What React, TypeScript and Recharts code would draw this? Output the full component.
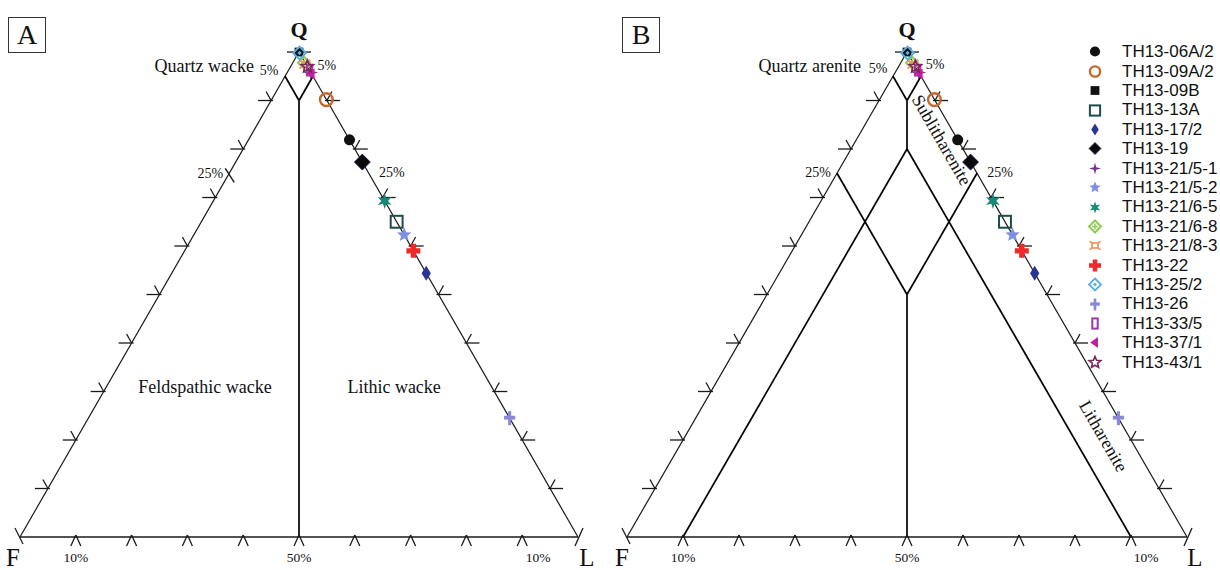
import React from 'react';
import { ScatterChart, Scatter, XAxis, YAxis, ReferenceLine, ReferenceDot } from 'recharts';

// ---------- data ----------
const sampleNames = [
  'TH13-06A/2', 'TH13-09A/2', 'TH13-09B', 'TH13-13A', 'TH13-17/2', 'TH13-19',
  'TH13-21/5-1', 'TH13-21/5-2', 'TH13-21/6-5', 'TH13-21/6-8', 'TH13-21/8-3',
  'TH13-22', 'TH13-25/2', 'TH13-26', 'TH13-33/5', 'TH13-37/1', 'TH13-43/1',
];
// quartz fraction (Q) and feldspar fraction (F); L = 1 - Q - F
const sampleQ = [0.819, 0.902, 1.0, 0.65, 0.544, 0.773, 0.958, 0.623, 0.693, 0.978, 0.975, 0.59, 0.998, 0.245, 0.962, 0.955, 0.97];
const sampleF = [0, 0, 0, 0, 0, 0, 0, 0, 0, 0.002, 0.002, 0, 0, 0, 0, 0, 0];
const sampleColors = [
  '#111111', '#c8662e', '#111111', '#1d4d4a', '#2a3593', '#0a0a0a',
  '#7a2c96', '#7d8fe0', '#168a74', '#8dcc4e', '#ee9a66',
  '#ec2a2a', '#5aaee0', '#8a88d6', '#9c3aa6', '#c21ea0', '#7a2458',
];
const sampleKinds = [
  'dot', 'ring', 'square', 'openSquare', 'diamond', 'bigDiamond',
  'star4', 'star5', 'star6', 'diamondCross', 'squareX',
  'cross', 'diamondDot', 'crossThin', 'openRect', 'triLeft', 'starOpen',
];

const sideTickValues = [0.1, 0.2, 0.3, 0.4, 0.5, 0.6, 0.7, 0.8, 0.9];
const baseTickValues = [0.1, 0.2, 0.3, 0.4, 0.5, 0.6, 0.7, 0.8, 0.9];

// classification boundaries as [q, l] pairs
const boundariesA: number[][][] = [
  [[0.95, 0], [0.9, 0.05]],
  [[0.95, 0.05], [0.9, 0.05]],
  [[0.9, 0.05], [0, 0.5]],
];
const boundariesB: number[][][] = [
  [[0.95, 0], [0.9, 0.05]],
  [[0.95, 0.05], [0.9, 0.05]],
  [[0.9, 0.05], [0.8, 0.1]],
  [[0.8, 0.1], [0, 0.1]],
  [[0.8, 0.1], [0, 0.9]],
  [[0.75, 0], [0.5, 0.25]],
  [[0.75, 0.25], [0.5, 0.25]],
  [[0.5, 0.25], [0, 0.5]],
];

type Ann = { text: string; q: number; l: number; dx: number; dy: number; size: number; anchor?: string; rotate?: number; bold?: boolean };

const labelsA: Ann[] = [
  { text: 'Q', q: 1, l: 0, dx: 0, dy: -15, size: 22, bold: true },
  { text: 'F', q: 0, l: 0, dx: -7, dy: 29, size: 25 },
  { text: 'L', q: 0, l: 1, dx: 9, dy: 29, size: 25 },
  { text: '5%', q: 0.95, l: 0, dx: -16, dy: -1, size: 14 },
  { text: '5%', q: 0.95, l: 0.05, dx: 14, dy: -6, size: 14 },
  { text: '25%', q: 0.75, l: 0, dx: -19, dy: 5, size: 14 },
  { text: '25%', q: 0.75, l: 0.25, dx: 23, dy: 4, size: 14 },
  { text: '10%', q: 0, l: 0.1, dx: 0, dy: 25, size: 13.5 },
  { text: '50%', q: 0, l: 0.5, dx: 0, dy: 25, size: 13.5 },
  { text: '10%', q: 0, l: 0.9, dx: 16, dy: 25, size: 13.5 },
  { text: 'Quartz wacke', q: 0.95, l: 0, dx: -31, dy: -4, size: 18, anchor: 'end' },
  { text: 'Feldspathic wacke', q: 0.297, l: 0.183, dx: 0, dy: 0, size: 18 },
  { text: 'Lithic wacke', q: 0.297, l: 0.522, dx: 0, dy: 0, size: 18 },
];
const labelsB: Ann[] = [
  { text: 'Q', q: 1, l: 0, dx: 0, dy: -15, size: 22, bold: true },
  { text: 'F', q: 0, l: 0, dx: -5, dy: 29, size: 25 },
  { text: 'L', q: 0, l: 1, dx: 8, dy: 29, size: 25 },
  { text: '5%', q: 0.95, l: 0, dx: -15, dy: -3, size: 14 },
  { text: '5%', q: 0.95, l: 0.05, dx: 14, dy: -7, size: 14 },
  { text: '25%', q: 0.75, l: 0, dx: -19, dy: 4, size: 14 },
  { text: '25%', q: 0.75, l: 0.25, dx: 23, dy: 4, size: 14 },
  { text: '10%', q: 0, l: 0.1, dx: 0, dy: 25, size: 13.5 },
  { text: '50%', q: 0, l: 0.5, dx: 0, dy: 25, size: 13.5 },
  { text: '10%', q: 0, l: 0.9, dx: 15, dy: 25, size: 13.5 },
  { text: 'Quartz arenite', q: 0.95, l: 0, dx: -32, dy: -4, size: 18, anchor: 'end' },
  { text: 'Sublitharenite', q: 0.8165, l: 0.151, dx: 0, dy: 0, size: 18, rotate: 60 },
  { text: 'Litharenite', q: 0.206, l: 0.745, dx: 0, dy: 0, size: 18, rotate: 60 },
];

// ---------- geometry helpers ----------
const H = Math.sqrt(3) / 2;
const CHART_W = 610;
const CHART_H = 570;
const BASE_PX = 537;
const PPU_Y = 560;

type Pt = { x: number; y: number };
const toXY = (q: number, l: number): Pt => ({ x: l + q / 2, y: q * H });

type Seg = { a: Pt; b: Pt; w: number; c: string };

const kindSize: Record<string, number> = {
  dot: 13, ring: 15, square: 11, openSquare: 14, diamond: 15, bigDiamond: 16,
  star4: 15, star5: 15, star6: 16, diamondCross: 12, squareX: 11, cross: 14,
  diamondDot: 13, crossThin: 14, openRect: 12, triLeft: 12, starOpen: 13,
};

function starPts(cx: number, cy: number, n: number, ro: number, ri: number): string {
  const pts: string[] = [];
  for (let i = 0; i < n * 2; i++) {
    const r = i % 2 === 0 ? ro : ri;
    const a = -Math.PI / 2 + (i * Math.PI) / n;
    pts.push(`${cx + r * Math.cos(a)},${cy + r * Math.sin(a)}`);
  }
  return pts.join(' ');
}

function Marker({ kind, color, cx, cy, s }: { kind: string; color: string; cx: number; cy: number; s: number }) {
  const h = s / 2;
  switch (kind) {
    case 'dot':
      return <circle cx={cx} cy={cy} r={h * 0.85} fill={color} />;
    case 'ring':
      return <circle cx={cx} cy={cy} r={h * 0.85} fill="none" stroke={color} strokeWidth={2.4} />;
    case 'square':
      return <rect x={cx - h * 0.8} y={cy - h * 0.8} width={h * 1.6} height={h * 1.6} fill={color} />;
    case 'openSquare':
      return <rect x={cx - h * 0.85} y={cy - h * 0.85} width={h * 1.7} height={h * 1.7} fill="none" stroke={color} strokeWidth={2} />;
    case 'diamond':
      return <polygon points={`${cx},${cy - h} ${cx + h * 0.62},${cy} ${cx},${cy + h} ${cx - h * 0.62},${cy}`} fill={color} />;
    case 'bigDiamond':
      return <polygon points={`${cx},${cy - h} ${cx + h},${cy} ${cx},${cy + h} ${cx - h},${cy}`} fill={color} stroke="#1a1a50" strokeWidth={0.8} />;
    case 'star4':
      return <polygon points={starPts(cx, cy, 4, h, h * 0.28)} fill={color} />;
    case 'star5':
      return <polygon points={starPts(cx, cy, 5, h, h * 0.45)} fill={color} />;
    case 'star6':
      return <polygon points={starPts(cx, cy, 6, h, h * 0.42)} fill={color} />;
    case 'diamondCross':
      return (
        <g>
          <polygon points={`${cx},${cy - h} ${cx + h},${cy} ${cx},${cy + h} ${cx - h},${cy}`} fill="none" stroke={color} strokeWidth={2} />
          <line x1={cx - h * 0.5} y1={cy} x2={cx + h * 0.5} y2={cy} stroke={color} strokeWidth={1.5} />
          <line x1={cx} y1={cy - h * 0.5} x2={cx} y2={cy + h * 0.5} stroke={color} strokeWidth={1.5} />
        </g>
      );
    case 'squareX':
      return (
        <g stroke={color} strokeWidth={1.8} fill="none">
          <rect x={cx - h * 0.55} y={cy - h * 0.45} width={h * 1.1} height={h * 0.9} />
          <line x1={cx - h} y1={cy - h * 0.8} x2={cx - h * 0.5} y2={cy - h * 0.4} />
          <line x1={cx + h} y1={cy - h * 0.8} x2={cx + h * 0.5} y2={cy - h * 0.4} />
          <line x1={cx - h} y1={cy + h * 0.8} x2={cx - h * 0.5} y2={cy + h * 0.4} />
          <line x1={cx + h} y1={cy + h * 0.8} x2={cx + h * 0.5} y2={cy + h * 0.4} />
        </g>
      );
    case 'cross': {
      const a = h * 0.38;
      return (
        <polygon
          points={`${cx - a},${cy - h} ${cx + a},${cy - h} ${cx + a},${cy - a} ${cx + h},${cy - a} ${cx + h},${cy + a} ${cx + a},${cy + a} ${cx + a},${cy + h} ${cx - a},${cy + h} ${cx - a},${cy + a} ${cx - h},${cy + a} ${cx - h},${cy - a} ${cx - a},${cy - a}`}
          fill={color}
        />
      );
    }
    case 'diamondDot':
      return (
        <g>
          <polygon points={`${cx},${cy - h} ${cx + h},${cy} ${cx},${cy + h} ${cx - h},${cy}`} fill="none" stroke={color} strokeWidth={1.8} />
          <polygon points={`${cx},${cy - h * 0.35} ${cx + h * 0.35},${cy} ${cx},${cy + h * 0.35} ${cx - h * 0.35},${cy}`} fill={color} />
        </g>
      );
    case 'crossThin': {
      const a = h * 0.22;
      return (
        <g fill={color}>
          <rect x={cx - a} y={cy - h} width={2 * a} height={2 * h} />
          <rect x={cx - h * 0.8} y={cy - h * 0.35} width={h * 1.6} height={h * 0.55} />
        </g>
      );
    }
    case 'openRect':
      return <rect x={cx - h * 0.45} y={cy - h * 0.85} width={h * 0.9} height={h * 1.7} fill="none" stroke={color} strokeWidth={2} />;
    case 'triLeft':
      return <polygon points={`${cx - h * 0.8},${cy} ${cx + h * 0.5},${cy - h * 0.9} ${cx + h * 0.5},${cy + h * 0.9}`} fill={color} />;
    case 'starOpen':
      return <polygon points={starPts(cx, cy, 5, h, h * 0.45)} fill="none" stroke={color} strokeWidth={1.6} />;
    default:
      return <circle cx={cx} cy={cy} r={h} fill={color} />;
  }
}

interface PanelCfg { id: string; left: number; originPx: number; ppuX: number; boundaries: number[][][]; labels: Ann[]; slash25: boolean }

function buildSegments(cfg: PanelCfg): Seg[] {
  const off = (p: Pt, dpx: number, dpy: number): Pt => ({ x: p.x + dpx / cfg.ppuX, y: p.y - dpy / PPU_Y });
  const segs: Seg[] = [];
  const edge = '#1a1a1a';
  const vQ = toXY(1, 0), vF = toXY(0, 0), vL = toXY(0, 1);
  segs.push({ a: vF, b: vQ, w: 1.2, c: edge });
  segs.push({ a: vQ, b: vL, w: 1.2, c: edge });
  segs.push({ a: vF, b: vL, w: 1.4, c: edge });
  cfg.boundaries.forEach(([p1, p2]) => {
    segs.push({ a: toXY(p1[0], p1[1]), b: toXY(p2[0], p2[1]), w: 1.7, c: '#000' });
  });
  sideTickValues.forEach((q) => {
    const pl = toXY(q, 0);
    segs.push({ a: off(pl, 2, 0), b: off(pl, -13, 0), w: 1.3, c: edge });
    segs.push({ a: pl, b: off(pl, -5, -9), w: 1.3, c: edge });
    const pr = toXY(q, 1 - q);
    segs.push({ a: off(pr, -2, 0), b: off(pr, 13, 0), w: 1.3, c: edge });
    segs.push({ a: pr, b: off(pr, 5, -9), w: 1.3, c: edge });
  });
  baseTickValues.forEach((l) => {
    const pb = toXY(0, l);
    segs.push({ a: off(pb, 0, -2), b: off(pb, -5, 9), w: 1.3, c: edge });
    segs.push({ a: off(pb, 0, -2), b: off(pb, 5, 9), w: 1.3, c: edge });
  });
  segs.push({ a: off(vQ, -12, 0), b: off(vQ, 12, 0), w: 1.3, c: edge });
  segs.push({ a: off(vF, -5, -9), b: off(vF, 3, 7), w: 1.3, c: edge });
  segs.push({ a: off(vL, 5, -9), b: off(vL, -3, 9), w: 1.3, c: edge });
  if (cfg.slash25) {
    const p = toXY(0.75, 0);
    segs.push({ a: off(p, -4, -5), b: off(p, 5, 9), w: 1.4, c: edge });
  }
  return segs;
}

function TernaryPanel({ cfg }: { cfg: PanelCfg }) {
  const xDomain = [-cfg.originPx / cfg.ppuX, (CHART_W - cfg.originPx) / cfg.ppuX];
  const yDomain = [-(CHART_H - BASE_PX) / PPU_Y, BASE_PX / PPU_Y];
  const segs = buildSegments(cfg);
  return (
    <div style={{ position: 'absolute', left: cfg.left, top: 0, width: CHART_W, height: CHART_H }}>
      <ScatterChart width={CHART_W} height={CHART_H} margin={{ top: 0, right: 0, bottom: 0, left: 0 }}>
        <XAxis type="number" dataKey="x" domain={xDomain} allowDataOverflow hide />
        <YAxis type="number" dataKey="y" domain={yDomain} allowDataOverflow hide />
        {segs.map((s, i) => (
          <ReferenceLine key={'s' + i} segment={[s.a, s.b]} stroke={s.c} strokeWidth={s.w} ifOverflow="visible" />
        ))}
        {cfg.labels.map((t, i) => {
          const p = toXY(t.q, t.l);
          return (
            <ReferenceDot
              key={'t' + i}
              x={p.x}
              y={p.y}
              r={0}
              ifOverflow="visible"
              shape={(sp: any) => {
                const x = sp.cx + t.dx;
                const y = sp.cy + t.dy;
                return (
                  <text
                    x={x}
                    y={y}
                    textAnchor={t.anchor || 'middle'}
                    dominantBaseline={t.rotate ? 'middle' : 'auto'}
                    transform={t.rotate ? `rotate(${t.rotate}, ${x}, ${y})` : undefined}
                    fontFamily='"Liberation Serif", "Times New Roman", serif'
                    fontSize={t.size}
                    fontWeight={t.bold ? 'bold' : 'normal'}
                    fill="#111"
                  >
                    {t.text}
                  </text>
                );
              }}
            />
          );
        })}
        {sampleNames.map((name, i) => {
          const q = sampleQ[i];
          const f = sampleF[i];
          const l = 1 - q - f;
          const pt = toXY(q, l);
          const kind = sampleKinds[i];
          return (
            <Scatter
              key={name}
              name={name}
              data={[pt]}
              isAnimationActive={false}
              shape={(p: any) => <Marker kind={kind} color={sampleColors[i]} cx={p.cx} cy={p.cy} s={kindSize[kind]} />}
            />
          );
        })}
      </ScatterChart>
    </div>
  );
}

function PanelBox({ label, left }: { label: string; left: number }) {
  return (
    <div
      style={{
        position: 'absolute', left, top: 17, width: 36, height: 34, border: '1px solid #333',
        fontFamily: '"Liberation Serif", "Times New Roman", serif', fontSize: 28, lineHeight: '34px',
        textAlign: 'center', color: '#111', background: '#fff',
      }}
    >
      {label}
    </div>
  );
}

function SampleLegend() {
  return (
    <div style={{ position: 'absolute', left: 1084, top: 42.3, fontFamily: '"Liberation Sans", Arial, sans-serif', fontSize: 17, color: '#111' }}>
      {sampleNames.map((n, i) => (
        <div key={n} style={{ display: 'flex', alignItems: 'center', height: 19.4 }}>
          <svg width={22} height={19} style={{ display: 'block' }}>
            <Marker kind={sampleKinds[i]} color={sampleColors[i]} cx={11} cy={9.5} s={Math.min(kindSize[sampleKinds[i]], 12)} />
          </svg>
          <span style={{ marginLeft: 16, lineHeight: '19.4px', whiteSpace: 'nowrap' }}>{n}</span>
        </div>
      ))}
    </div>
  );
}

const panelA: PanelCfg = { id: 'A', left: 0, originPx: 20, ppuX: 558, boundaries: boundariesA, labels: labelsA, slash25: true };
const panelB: PanelCfg = { id: 'B', left: 610, originPx: 17, ppuX: 560, boundaries: boundariesB, labels: labelsB, slash25: false };

export default function App() {
  return (
    <div style={{ position: 'absolute', left: 0, top: 0, width: 1220, height: 570, background: '#fff', overflow: 'hidden' }}>
      <TernaryPanel cfg={panelA} />
      <TernaryPanel cfg={panelB} />
      <PanelBox label="A" left={8} />
      <PanelBox label="B" left={622} />
      <SampleLegend />
    </div>
  );
}
